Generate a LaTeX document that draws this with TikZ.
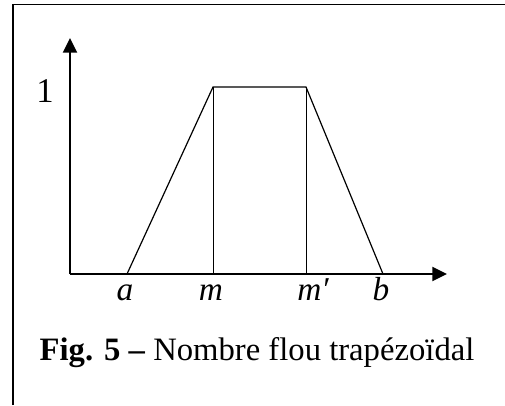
\documentclass[tikz,border=0pt]{standalone}
\usepackage{fontspec}
\setmainfont{Liberation Serif}
\usetikzlibrary{arrows.meta}
\begin{document}
\begin{tikzpicture}[x=0.75pt, y=-0.75pt,
    axe/.style={line width=1.5pt, -{Triangle[length=11pt, width=10.5pt]}},
    lbl/.style={anchor=base, font=\fontsize{25}{28}\selectfont\itshape},
    trait/.style={line width=0.9pt}]
    \useasboundingbox (0,0) rectangle (505,405);

    % cadre
    \draw[line width=1.2pt] (13,405) -- (13,4.5) -- (505,4.5);

    % points
    \coordinate (O) at (70,274);
    \coordinate (ytop) at (70,38);
    \coordinate (xend) at (447,274);
    \coordinate (A) at (127,274);
    \coordinate (M) at (213,87);
    \coordinate (Mp) at (306,87);
    \coordinate (B) at (383,274);
    \coordinate (Mb) at (213,274);
    \coordinate (Mpb) at (306,274);

    % axes
    \draw[axe] (O) -- (ytop);
    \draw[axe] (O) -- (xend);

    % trapeze
    \draw[trait] (A) -- (M) -- (Mp) -- (B);
    \draw[line width=0.5pt] (M) -- (Mb);
    \draw[line width=0.5pt] (Mp) -- (Mpb);

    % etiquettes
    \node[anchor=base, font=\fontsize{26}{28}\selectfont] (un) at (45,102) {1};
    \node[lbl] (la) at (125,300) {a};
    \node[lbl] (lm) at (211,300) {m};
    \node[lbl] (lmp) at (313,300) {m′};
    \node[lbl] (lb) at (381,300) {b};

    \node[anchor=base, font=\fontsize{24.5}{28}\selectfont] (titre) at (257,360)
        {\textbf{Fig. 5 –} Nombre flou trapézoïdal};
\end{tikzpicture}
\end{document}
